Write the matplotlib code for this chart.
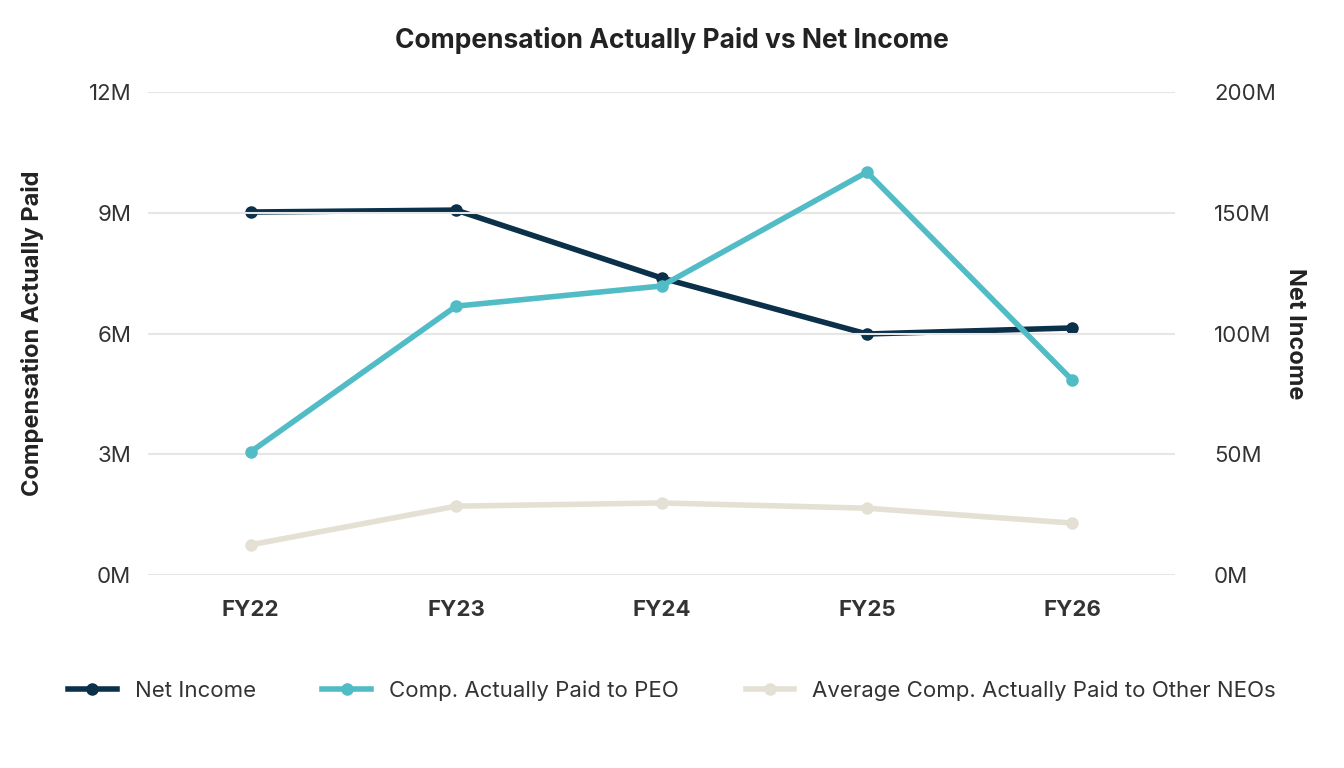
import matplotlib
matplotlib.use("Agg")
import matplotlib.pyplot as plt

plt.rcParams['font.family'] = ['Inter', 'DejaVu Sans']

years = ["FY22", "FY23", "FY24", "FY25", "FY26"]
net_income = [150.3, 151.1, 123.0, 99.8, 102.3]     # millions, right axis
peo_cap = [3.06, 6.68, 7.18, 10.01, 4.84]          # millions, left axis
neo_cap = [0.75, 1.71, 1.79, 1.66, 1.29]           # millions, left axis

navy = "#0b3049"
teal = "#52bcc6"
beige = "#e4e0d4"

fig = plt.figure(figsize=(13.44, 7.68), dpi=100)
ax = fig.add_axes([148/1344, 1-575/768, 1027/1344, 483/768])
ax2 = ax.twinx()
x = range(len(years))

ax.plot(x, neo_cap, color=beige, lw=4, marker="o", ms=8, zorder=3)
ax.plot(x, peo_cap, color=teal, lw=4, marker="o", ms=8, zorder=4)
ax2.plot(x, net_income, color=navy, lw=4, marker="o", ms=8, zorder=5)
ax.set_zorder(ax2.get_zorder() + 1)
ax.patch.set_visible(False)

ax.set_xlim(-0.5, 4.5)
ax.set_ylim(0, 12)
ax2.set_ylim(0, 200)
ax.set_yticks([0, 3, 6, 9, 12])
ax.set_yticklabels([f"{v}M" for v in [0, 3, 6, 9, 12]])
ax2.set_yticks([0, 50, 100, 150, 200])
ax2.set_yticklabels([f"{v}M" for v in [0, 50, 100, 150, 200]])
ax.set_xticks(list(x))
ax.set_xticklabels(years, fontsize=17, fontweight="bold", color="#222222")
ax.grid(axis="y", color="#e6e6e6", lw=1.5)
for a in (ax, ax2):
    for s in a.spines.values():
        s.set_visible(False)
    a.tick_params(length=0, labelsize=16, colors="#333333", pad=12)
ax.tick_params(axis="x", pad=18)
ax2.tick_params(axis="y", pad=28)

ax.set_ylabel("Compensation Actually Paid", fontsize=17, fontweight="bold", color="#222222", labelpad=32)
ax2.set_ylabel("Net Income", fontsize=17, fontweight="bold", color="#222222", rotation=270, labelpad=22)
fig.suptitle("Compensation Actually Paid vs Net Income", fontsize=19, fontweight="bold", color="#222222", y=0.965)

handles = [plt.Line2D([], [], color=c, lw=4, marker="o", ms=8) for c in (navy, teal, beige)]
fig.legend(handles, ["Net Income", "Comp. Actually Paid to PEO", "Average Comp. Actually Paid to Other NEOs"],
           loc="center", bbox_to_anchor=(0.5, 1-691/768), ncol=3, frameon=False, fontsize=16,
           handlelength=2.2, columnspacing=3, labelcolor="#333333")

fig.savefig("out.png")
